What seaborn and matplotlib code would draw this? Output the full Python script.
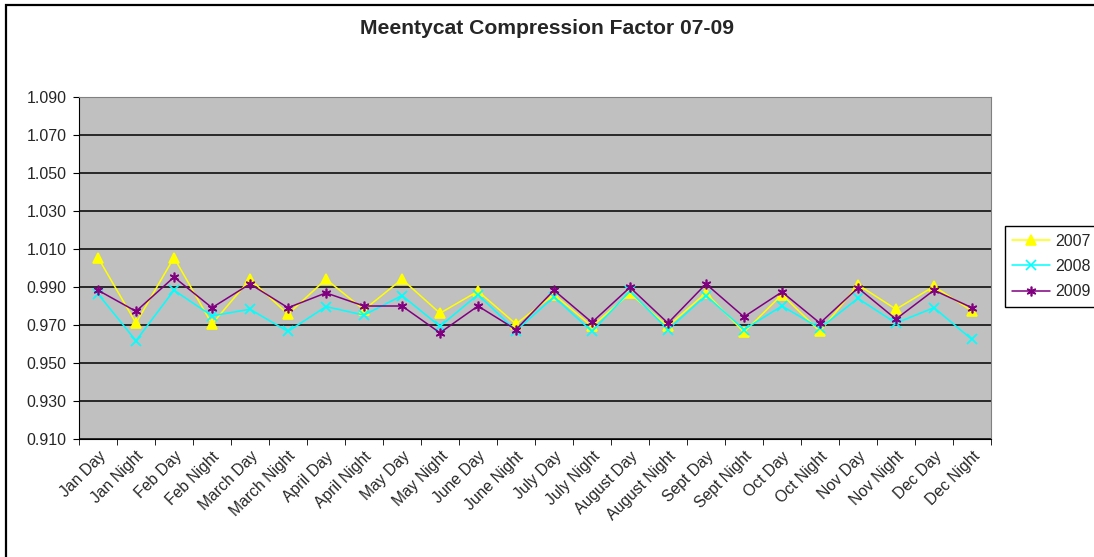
## Import Needed Libraries
from matplotlib import pyplot as plt
from matplotlib.patches import Rectangle
import pandas as pd
import seaborn as sns

## Chart data
periods = ['Jan Day', 'Jan Night', 'Feb Day', 'Feb Night', 'March Day', 'March Night',
           'April Day', 'April Night', 'May Day', 'May Night', 'June Day', 'June Night',
           'July Day', 'July Night', 'August Day', 'August Night', 'Sept Day', 'Sept Night',
           'Oct Day', 'Oct Night', 'Nov Day', 'Nov Night', 'Dec Day', 'Dec Night']
cf_2007 = [1.0055, 0.9710, 1.0055, 0.9705, 0.9941, 0.9757, 0.9941, 0.9780,
           0.9941, 0.9762, 0.9878, 0.9705, 0.9860, 0.9693, 0.9866, 0.9693,
           0.9869, 0.9662, 0.9860, 0.9666, 0.9912, 0.9783, 0.9903, 0.9774]
cf_2008 = [0.9864, 0.9617, 0.9883, 0.9748, 0.9783, 0.9666, 0.9797, 0.9752,
           0.9855, 0.9693, 0.9860, 0.9670, 0.9848, 0.9666, 0.9878, 0.9676,
           0.9855, 0.9676, 0.9800, 0.9683, 0.9840, 0.9710, 0.9791, 0.9624]
cf_2009 = [0.9883, 0.9772, 0.9952, 0.9791, 0.9916, 0.9791, 0.9869, 0.9800,
           0.9800, 0.9659, 0.9800, 0.9676, 0.9883, 0.9714, 0.9898, 0.9710,
           0.9916, 0.9743, 0.9874, 0.9710, 0.9895, 0.9731, 0.9883, 0.9791]
years = ['2007', '2008', '2009']
y_ticks = [0.910, 0.930, 0.950, 0.970, 0.990, 1.010, 1.030, 1.050, 1.070, 1.090]

## Build dataframe
df = pd.DataFrame({'Period': periods, '2007': cf_2007, '2008': cf_2008, '2009': cf_2009})
df['Pos'] = range(len(periods))

## Plot
sns.set_style('white')
plt.rcParams['font.family'] = ['Liberation Sans', 'DejaVu Sans']

fig = plt.figure(figsize=(10.94, 5.57), dpi=100)
ax = fig.add_axes([0.0722, 0.2118, 0.8336, 0.6141])
ax.set_facecolor('#C0C0C0')

palette = {'2007': '#FFFF00', '2008': '#00FFFF', '2009': '#800080'}
markers = {'2007': '^', '2008': 'x', '2009': (6, 2, 0)}
for yr in years:
    sns.lineplot(data=df, x='Pos', y=yr, color=palette[yr], marker=markers[yr],
                 markersize=7, markeredgewidth=1.2, markeredgecolor=palette[yr],
                 linewidth=1.1, label=yr, sort=False, ax=ax)

ax.set_ylim(0.910, 1.090)
ax.set_yticks(y_ticks)
ax.set_yticklabels([f'{v:.3f}' for v in y_ticks], fontsize=11.5)
ax.yaxis.grid(True, color='black', linewidth=1.1)
ax.set_axisbelow(True)

ax.set_xlim(-0.5, len(periods) - 0.5)
ax.set_xticks(range(len(periods)))
ax.set_xticklabels(periods, rotation=45, ha='right', rotation_mode='anchor', fontsize=11.3)
ax.set_xticks([i + 0.5 for i in range(-1, len(periods))], minor=True)
ax.tick_params(axis='x', which='major', length=0, pad=7)
ax.tick_params(axis='x', which='minor', length=4, direction='out', color='black', bottom=True)
ax.tick_params(axis='y', length=4, direction='out', color='black', left=True, pad=5)
ax.set_xlabel('')
ax.set_ylabel('')

for side in ['top', 'right']:
    ax.spines[side].set_color('#808080')
for side in ['left', 'bottom']:
    ax.spines[side].set_color('black')

fig.text(0.5, 0.948, 'Meentycat Compression Factor 07-09', ha='center', va='center',
         fontsize=15.2, fontweight='bold')

handles, labels = ax.get_legend_handles_labels()
ax.legend(handles, labels, loc='center left', bbox_to_anchor=(0.9186, 0.5215),
          bbox_transform=fig.transFigure, frameon=True, fancybox=False,
          edgecolor='black', framealpha=1, fontsize=11.5, handlelength=2.4,
          borderpad=0.45, labelspacing=0.65, handletextpad=0.3, borderaxespad=0)

# chart-area border: only the left and top edges fall inside the image
fig.patches.append(Rectangle((0.0059, -0.1), 1.2, 1.0919, transform=fig.transFigure,
                             fill=False, edgecolor='black', linewidth=1.6))

plt.savefig('out.png', dpi=100)
